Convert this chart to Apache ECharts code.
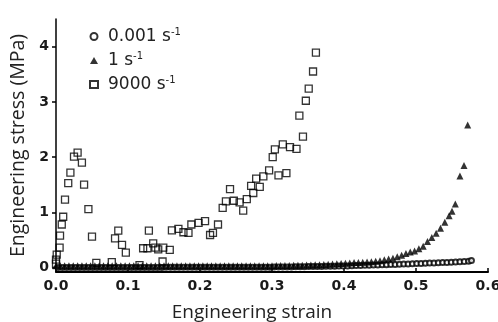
<!DOCTYPE html>
<html><head><meta charset="utf-8">
<script src="https://cdn.jsdelivr.net/npm/echarts@6/dist/echarts.min.js"></script>
<style>html,body{margin:0;padding:0;background:#fff}#c{width:498px;height:322px}</style>
</head><body><div id="c"></div>
<script>
// Series names (strain rates)
const seriesNames = ['0.001 s-1', '1 s-1', '9000 s-1'];
const xTickValues = [0, 0.1, 0.2, 0.3, 0.4, 0.5, 0.6];
const yTickValues = [0, 1, 2, 3, 4];

// 0.001 s^-1 (open circles)
const slowStrain = [.003,.009,.015,.021,.027,.033,.039,.045,.051,.057,.063,.069,.075,.081,.087,.093,.099,.105,.111,.117,.123,.129,.135,.141,.147,
  .153,.159,.165,.171,.177,.183,.189,.195,.201,.207,.213,.219,.225,.231,.237,.243,.249,.255,.261,.267,.273,.279,.285,.291,.297,
  .303,.309,.315,.321,.327,.333,.339,.345,.351,.357,.363,.369,.375,
  .381,.387,.393,.399,.405,.411,.417,.423,.429,.435,
  .441,.447,.453,.459,.465,.471,.477,.483,.489,.495,
  .501,.507,.513,.519,.525,.531,.537,.543,.549,
  .555,.561,.567,.573,.577];
const slowStress = [0,0,0,0,0,0,0,0,0,0,0,0,0,0,0,0,0,0,0,0,0,0,0,0,0,
  .005,.005,.005,.005,.005,.005,.005,.005,.005,.005,.005,.005,.005,.005,.005,.005,.005,.005,.005,.005,.005,.005,.005,.005,.005,
  .01,.01,.01,.012,.012,.015,.015,.015,.018,.018,.02,.02,.022,
  .025,.025,.028,.03,.03,.033,.036,.038,.04,.042,
  .045,.048,.05,.053,.056,.058,.061,.064,.067,.07,
  .073,.076,.079,.082,.085,.088,.091,.094,.097,
  .101,.105,.11,.116,.127];

// 1 s^-1 (filled triangles)
const midStrain = [0,.006,.012,.018,.024,.03,.036,.042,.048,.054,.06,.066,.072,.078,.084,.09,.096,.102,.108,.114,.12,.126,.132,.138,.144,.15,.156,
  .162,.168,.174,.18,.186,.192,.198,.204,.21,.216,.222,.228,.234,
  .24,.246,.252,.258,.264,.27,.276,.282,.288,.294,.3,
  .306,.312,.318,.324,.33,.336,.342,.348,.354,.36,.366,
  .372,.378,.384,.39,.396,.402,.408,.414,.42,.426,.432,.438,.444,.45,.456,.462,.468,.474,.48,.486,.492,.498,.504,.51,.516,.522,.528,.534,.54,.546,
  .55,.5546,.561,.5667,.5718];
const midStress = [.035,.035,.035,.035,.035,.035,.035,.035,.035,.035,.035,.035,.035,.035,.035,.035,.035,.035,.035,.035,.035,.035,.035,.035,.035,.035,.035,
  .035,.035,.035,.035,.035,.035,.035,.035,.035,.035,.035,.035,.035,
  .035,.035,.035,.035,.035,.035,.035,.035,.035,.035,.035,
  .037,.037,.037,.037,.04,.04,.04,.045,.045,.05,.05,
  .055,.06,.065,.07,.075,.08,.085,.09,.093,.096,.1,.107,.114,.125,.14,.155,.17,.195,.225,.255,.28,.3,.34,.385,.47,.545,.62,.71,.82,.94,
  1.02,1.15,1.66,1.85,2.58];

// 9000 s^-1 (open squares)
const fastStrain = [0,0,.001,.005,.0056,.008,.01,.0125,.017,.02,.025,.03,.036,.039,.045,.05,.056,
  .0775,.082,.0865,.0917,.097,.116,.121,.127,.129,.135,.138,.142,.148,.149,.158,
  .161,.17,.177,.184,.188,.198,.207,.214,.218,.225,
  .2315,.236,.2417,.247,.255,.26,.265,.271,.274,.278,.283,.288,.296,.301,.304,.309,.315,.32,.325,.334,.338,.343,.347,.351,.357,.361];
const fastStress = [.07,.145,.235,.36,.58,.78,.92,1.23,1.53,1.72,2.01,2.08,1.9,1.5,1.06,.56,.085,
  .1,.53,.67,.41,.27,.043,.35,.35,.67,.44,.36,.33,.11,.36,.32,
  .675,.7,.64,.63,.78,.81,.84,.59,.63,.78,
  1.08,1.2,1.42,1.21,1.18,1.03,1.24,1.48,1.35,1.61,1.46,1.65,1.76,2.0,2.14,1.67,2.23,1.71,2.18,2.15,2.75,2.37,3.02,3.24,3.55,3.89];

const zip = (a, b) => a.map((v, i) => [v, b[i]]);

const chart = echarts.init(document.getElementById('c'), null, {renderer: 'canvas'});
const labelFont = {fontFamily: 'DejaVu Sans', fontWeight: 'bold', fontSize: 14, color: '#1a1a1a'};

chart.setOption({
  animation: false,
  backgroundColor: '#fff',
  grid: {left: 56, right: 10, top: 19, bottom: 50, outerBoundsMode: 'none', containLabel: false},
  legend: {
    orient: 'vertical', left: 89, top: 27, padding: 0,
    itemWidth: 8, itemHeight: 7, itemGap: 6,
    data: [
      {name: seriesNames[0], icon: 'circle'},
      {name: seriesNames[1], icon: 'triangle'},
      {name: seriesNames[2], icon: 'rect'}
    ],
    formatter: n => '{n|' + n.replace(' s-1', ' s') + '}{s|-1}',
    textStyle: {
      padding: [0, 0, 0, 5],
      rich: {
        n: {fontFamily: 'DejaVu Sans', fontSize: 17, color: '#222', lineHeight: 19},
        s: {fontFamily: 'DejaVu Sans', fontSize: 10, color: '#222', verticalAlign: 'top', lineHeight: 10}
      }
    }
  },
  xAxis: {
    type: 'value', min: 0, max: 0.6, interval: 0.1,
    name: 'Engineering strain', nameLocation: 'middle', nameGap: 31,
    nameTextStyle: {fontFamily: 'Open Sans', fontSize: 19, color: '#222', padding: [0, 40, 0, 0]},
    axisLine: {onZero: false, lineStyle: {color: '#000', width: 2}},
    axisTick: {inside: true, length: 4, lineStyle: {color: '#000', width: 1.5}},
    axisLabel: Object.assign({margin: 7, formatter: v => v.toFixed(1), customValues: xTickValues}, labelFont),
    splitLine: {show: false}
  },
  yAxis: {
    type: 'value', min: -0.08, max: 4.5,
    name: 'Engineering stress (MPa)', nameLocation: 'middle', nameGap: 26,
    nameTextStyle: {fontFamily: 'Open Sans', fontSize: 19.5, color: '#222'},
    axisLine: {onZero: false, lineStyle: {color: '#000', width: 1.5}},
    axisTick: {length: 4, customValues: yTickValues, lineStyle: {color: '#000', width: 1.5}},
    axisLabel: Object.assign({margin: 7, customValues: yTickValues}, labelFont),
    splitLine: {show: false}
  },
  series: [
    {
      name: seriesNames[0], type: 'scatter', symbol: 'circle', symbolSize: 5,
      itemStyle: {color: '#fff', borderColor: '#000', borderWidth: 2},
      data: zip(slowStrain, slowStress), z: 2
    },
    {
      name: seriesNames[1], type: 'scatter', symbol: 'triangle', symbolSize: 7,
      itemStyle: {color: '#000'},
      data: zip(midStrain, midStress), z: 3
    },
    {
      name: seriesNames[2], type: 'scatter', symbol: 'rect', symbolSize: 7,
      itemStyle: {color: 'rgba(255,255,255,0)', borderColor: '#000', borderWidth: 1.3},
      data: zip(fastStrain, fastStress), z: 4
    }
  ]
});
</script>
</body></html>
